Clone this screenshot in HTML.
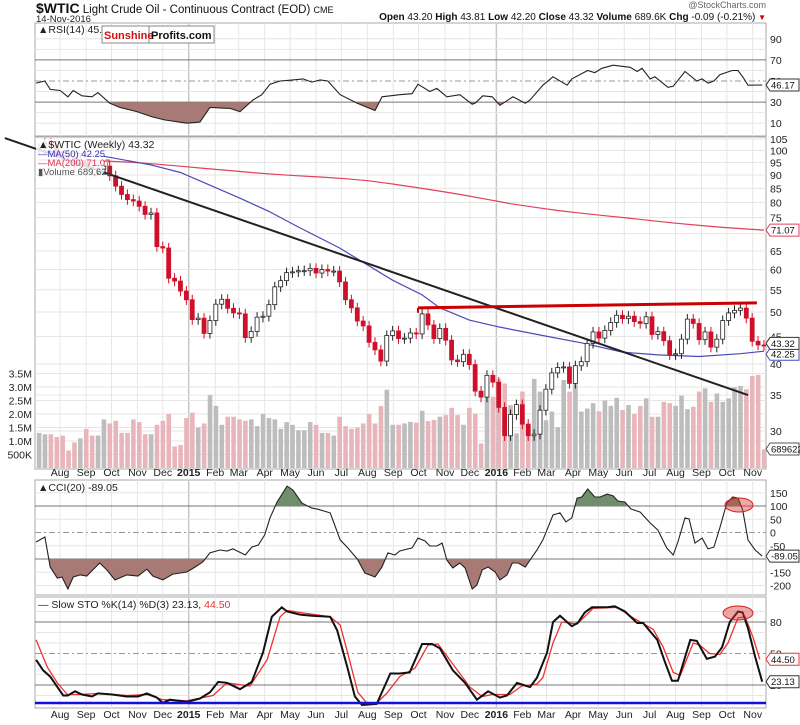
<!DOCTYPE html>
<html><head><meta charset="utf-8"><style>
html,body{margin:0;padding:0;background:#fff;}
svg{display:block;font-family:"Liberation Sans",sans-serif;}
</style></head><body>
<svg id="c" width="800" height="725" viewBox="0 0 800 725" xmlns="http://www.w3.org/2000/svg"></svg>
<script>
// ---------- DATA ----------
const monthWeeks=[3.57,8.0,12.3,16.7,21.0,25.4,29.9,33.9,38.3,42.6,47.0,51.3,55.7,60.1,64.4,68.9,73.1,77.6,82.0,86.1,90.6,94.9,99.3,103.6,108.0,112.4,116.7,121.1];
const monthLabels=["Aug","Sep","Oct","Nov","Dec","2015","Feb","Mar","Apr","May","Jun","Jul","Aug","Sep","Oct","Nov","Dec","2016","Feb","Mar","Apr","May","Jun","Jul","Aug","Sep","Oct","Nov"];
const closes=[100.8,103.1,102.1,97.9,97.7,97.4,93.7,95.9,93.3,92.3,92.4,93.5,89.7,85.8,82.8,81.0,80.5,78.7,76.0,76.5,66.2,65.8,57.8,57.1,54.7,52.7,
48.4,48.7,45.6,48.2,51.7,52.8,50.8,49.8,49.6,44.8,46.0,48.9,49.1,51.6,55.7,57.2,59.2,59.4,59.7,59.7,60.3,59.1,60.0,59.6,59.6,56.9,52.7,50.9,48.1,47.1,43.9,42.5,40.5,45.2,46.1,44.6,44.7,45.7,45.5,49.6,47.3,44.6,46.6,44.3,40.7,40.4,41.7,39.9,35.6,34.7,38.1,37.0,
33.2,29.4,32.2,33.6,30.9,29.4,29.6,32.8,35.9,38.5,39.4,39.5,36.8,39.7,40.4,43.7,45.9,44.7,46.2,47.8,49.3,48.6,49.1,47.98,47.6,48.99,45.4,45.95,44.2,41.6,41.8,44.5,48.5,47.6,44.4,45.9,43.0,44.5,48.2,49.8,50.35,50.85,48.7,44.1,43.4,43.32];
const volumesM=[1.3,1.25,1.25,1.15,1.2,0.65,0.95,1.1,1.45,1.2,1.2,1.8,1.65,1.75,1.3,1.3,1.8,1.7,1.25,1.25,1.6,1.75,2.0,0.8,0.85,1.85,2.05,1.5,1.65,2.7,2.3,1.6,1.9,1.9,1.8,1.75,1.8,1.55,2.0,1.85,1.8,1.45,1.7,1.6,1.4,1.4,1.7,1.6,1.3,1.3,1.2,1.9,1.55,1.45,1.5,1.65,2.0,1.65,2.3,2.9,1.6,1.6,
1.65,1.71,1.68,2.12,1.74,1.78,1.9,1.96,2.23,1.96,1.6,2.23,2.02,0.91,2.62,2.64,3.29,3.13,2.33,1.28,2.83,1.6,3.3,2.83,1.77,2.09,1.51,3.26,2.83,3.1,2.09,2.2,2.4,2.1,2.5,2.3,2.6,2.15,2.33,2.0,2.3,2.58,1.9,1.9,2.45,2.4,2.3,2.68,2.18,2.27,2.83,2.95,2.45,2.76,2.45,2.58,2.99,3.04,2.92,3.41,3.45,0.69];
const ma50Weeks=[0,10,19,24,34,39,44,51,60,65,68,73,78,85,92,99,105,112,119,123];
const ma50Vals=[100,98,94,91,81.6,77,72,65.8,57.3,53.8,50.9,48.3,46.9,45.3,43.8,42.1,41.6,41.3,41.8,42.25];
const ma200Weeks=[0,4,8,12,16,20,24,28,32,36,40,44,48,52,56,60,64,68,72,76,80,84,88,92,96,100,104,108,112,116,120,123];
const ma200Vals=[96,96,95.8,95.5,95,94.3,93.5,92.6,91.8,91,90.3,89.7,89.2,88.6,87.8,86.6,85.3,84,82.6,81.1,79.6,78.4,77.3,76.4,75.6,74.8,74,73.2,72.5,71.9,71.4,71.07];
const trendWeeks=[-5.8,120.3];const trendPrices=[105.5,35];
const resistWeeks=[64.3,121.8];const resistPrices=[50.9,52];
const rsiWeeks=[-0.5,1.0,1.9,3.6,4.9,5.8,7.3,9.0,10.0,12.0,13.7,16.6,19.2,21.4,25.1,27.3,29.0,32.4,34.1,36.3,37.8,39.2,40.9,43.1,44.8,46.3,47.7,49.0,51.1,54.0,57.0,58.2,61.2,63.3,64.3,66.3,67.5,69.2,71.4,73.5,74.0,75.3,76.9,78.2,80.4,82.5,83.3,85.5,87.2,89.6,90.4,93.1,94.3,95.5,97.4,100.3,101.5,102.3,103.7,104.5,106.7,107.6,109.6,111.6,112.5,113.5,114.5,115.5,117.6,118.6,119.4,120.3,122.7];
const rsiVals=[48,50,42,41,35,41,36,35,39,29,25,21,16,13,10,11,25,24,21,32,37,47,50,51,52,49,51,50,37,29,22,35,37,38,47,40,43,35,37,28,29,36,35,27,35,29,32,46,54,46,52,60,58,62,65,63,59,62,52,54,44,45,59,50,52,48,50,56,60,60,54,46,46.17];
const cciWeeks=[-0.5,1.0,1.9,3.1,3.9,4.9,5.8,7.0,8.1,10.3,11.5,12.9,14.9,16.8,18.3,19.3,21.0,22.7,25.1,26.5,27.8,29.0,30.7,31.9,32.9,35.0,36.1,37.2,38.3,39.2,40.4,42.1,43.1,44.6,46.3,47.3,49.4,51.1,52.4,54.0,55.3,57.0,58.2,59.2,60.4,61.2,63.3,64.3,65.5,66.3,67.5,68.4,69.2,70.2,71.4,72.3,73.5,74.3,75.2,76.2,77.4,78.2,79.4,80.3,81.3,82.5,83.3,84.5,85.5,86.4,87.2,88.4,89.4,90.4,91.3,92.1,93.1,94.3,95.2,96.4,97.4,98.2,99.4,100.4,102.0,103.7,105.0,106.5,107.6,108.4,109.6,110.3,111.3,112.5,113.5,114.5,115.5,116.7,117.7,118.6,119.4,120.3,121.5,122.7];
const cciVals=[-36,-17,-130,-172,-168,-213,-168,-160,-164,-115,-141,-179,-160,-164,-138,-164,-179,-157,-149,-130,-111,-77,-66,-70,-62,-85,-55,-47,-9,55,115,175,160,111,92,88,74,-28,-58,-100,-153,-168,-130,-77,-85,-70,-58,-21,-32,-51,-51,-40,-104,-134,-115,-134,-213,-198,-141,-130,-149,-179,-160,-115,-115,-130,-104,-66,-28,21,66,74,40,55,130,134,164,134,134,145,138,119,115,89,77,36,9,-58,-85,-36,55,51,-40,-21,-62,-55,17,111,134,130,85,-28,-66,-89.05];
const kWeeks=[-0.5,0.7,1.9,4.1,4.9,6.1,7.3,9.0,10.0,12.4,14.9,16.8,18.3,20.0,21.0,22.2,25.1,27.3,29.0,30.4,31.9,34.1,36.1,38.0,39.5,41.2,42.1,44.3,46.3,49.4,50.6,52.3,53.6,54.8,57.3,59.6,61.2,62.9,65.0,66.7,68.0,70.2,72.3,74.3,76.2,78.2,79.4,81.1,83.3,84.5,86.2,87.2,88.4,90.4,91.4,92.6,93.8,96.4,97.7,99.4,101.5,102.5,104.9,106.2,107.4,108.4,110.5,111.6,113.3,114.7,115.9,117.2,118.6,119.4,120.3,121.5,122.7];
const kVals=[44,34,28,10,10,14,11,9,12,11,9,9,12,8,3,6,4,7,13,23,22,16,23,51,85,94,90,87,86,85,72,37,9,1,2,31,31,32,59,59,55,34,22,6,14,8,10,22,18,27,51,80,86,76,79,89,94,94,95,90,79,79,63,42,24,24,63,62,45,47,56,80,90,89,74,47,23.13];
const dWeeks=[-0.5,1.4,3.1,4.8,7.0,10.3,14.9,18.3,21.0,25.1,29.5,31.9,35.8,38.7,40.9,42.1,44.3,49.4,51.1,52.4,54.1,55.6,57.3,59.0,61.2,63.8,66.0,67.7,70.6,73.1,75.2,76.9,79.9,81.9,84.5,85.5,87.2,88.7,91.3,94.0,98.1,100.8,104.2,105.9,107.6,108.8,111.0,112.1,113.8,115.5,116.9,118.6,119.8,121.1,122.3];
const dVals=[63,37,22,11,11,12,10,11,6,5,10,22,19,44,85,91,89,85,77,50,13,3,3,12,28,36,58,59,37,18,9,11,11,19,21,27,60,80,78,93,94,84,73,56,32,29,60,58,50,49,60,84,85,66,44.5];
const rsiTicks=[90,70,50,30,10];
const priceTicks=[105,100,95,90,85,80,75,70,65,60,55,50,45,40,35,30];
const volTicks=[3.5,3.0,2.5,2.0,1.5,1.0,0.5];
const volTickLabels=["3.5M","3.0M","2.5M","2.0M","1.5M","1.0M","500K"];
const cciTicks=[150,100,50,0,-50,-100,-150,-200];
const stoTicks=[80,50,20];

// ---------- SCALES ----------
const L=35,R=766;
const xW=w=>39+w*5.894;
const rsiY=v=>81-(v-50)*1.055;
const pY=p=>312-233*Math.log(p/50);
const volY=v=>468-27*v;
const cciY=v=>532.5-0.265*v;
const stoY=v=>706-1.05*v;

const svg=document.getElementById('c');
const NS='http://www.w3.org/2000/svg';
function mk(tag,at,parent){const e=document.createElementNS(NS,tag);for(const k in at)e.setAttribute(k,at[k]);(parent||svg).appendChild(e);return e;}
function txt(x,y,s,at,parent){const e=mk('text',Object.assign({x:x,y:y},at||{}),parent);e.textContent=s;return e;}

const defs=mk('defs',{});
function clip(id,x,y,w,h){const c=mk('clipPath',{id:id},defs);mk('rect',{x:x,y:y,width:w,height:h},c);}
clip('cpRsi',L,23,R-L,113);clip('cpMain',L,137,R-L,332);clip('cpCci',L,480,R-L,115);clip('cpSto',L,597,R-L,111);
clip('rsiLow',L,rsiY(30),R-L,60);clip('cciHi',L,470,R-L,cciY(100)-470);clip('cciLo',L,cciY(-100),R-L,60);

// ---------- PANELS ----------
const panels=[[23,136,'rsi-panel'],[137,469,'price-panel'],[480,595,'cci-panel'],[597,708,'sto-panel']];
panels.forEach(p=>{
  const r=mk('rect',{x:L,y:p[0],width:R-L,height:p[1]-p[0],fill:'#fff',stroke:'#aaa','stroke-width':1});
  
  monthWeeks.forEach((w,i)=>{const yr=monthLabels[i].length===4;
    mk('line',{x1:xW(w),x2:xW(w),y1:p[0],y2:p[1],stroke:yr?'#c8c8c8':'#e6e6e6','stroke-width':yr?1.5:1});});
});
function hgrid(y,kind){
  const a={x1:L,x2:R,y1:y,y2:y};
  if(kind==='dark'){a.stroke='#777';a['stroke-width']=1;}
  else if(kind==='dash'){a.stroke='#999';a['stroke-dasharray']='6,3,2,3';}
  else {a.stroke='#e6e6e6';}
  mk('line',a);
}
for(let v=10;v<=90;v+=10){hgrid(rsiY(v),v===70||v===30?'dark':v===50?'dash':'light');}
priceTicks.forEach(p=>hgrid(pY(p),'light'));
volTicks.forEach(v=>hgrid(volY(v),'light'));
for(let v=-200;v<=150;v+=50){hgrid(cciY(v),v===100||v===-100?'dark':v===0?'dash':'light');}
for(let v=10;v<=90;v+=10){hgrid(stoY(v),v===80||v===20?'dark':v===50?'dash':'light');}

// ---------- AXIS LABELS ----------
const lab={'font-size':10.5,fill:'#222'};
rsiTicks.forEach(v=>{const t=txt(770,rsiY(v)+4,String(v),lab);});
priceTicks.forEach(p=>{if(p===70)return;const t=txt(770,pY(p)+4,String(p),lab);});
volTicks.forEach((v,i)=>{const t=txt(32,volY(v)+4,volTickLabels[i],Object.assign({'text-anchor':'end'},lab));});
cciTicks.forEach(v=>{if(v===-100)return;const t=txt(770,cciY(v)+4,String(v),lab);});
stoTicks.forEach(v=>{const t=txt(770,stoY(v)+4,String(v),lab);});
[476,718].forEach(y=>{monthWeeks.forEach((w,i)=>{const yr=monthLabels[i].length===4;
  const t=txt(xW(w),y,monthLabels[i],{'font-size':10.5,'text-anchor':'middle',fill:'#222','font-weight':yr?'bold':'normal'});
  });});

// ---------- RSI ----------
function pts(ws,vs,fx,fy){return ws.map((w,i)=>fx(w).toFixed(1)+','+fy(vs[i]).toFixed(1)).join(' ');}
const gR=mk('g',{'clip-path':'url(#cpRsi)'});
const rf=mk('polygon',{points:xW(rsiWeeks[0])+','+rsiY(30)+' '+pts(rsiWeeks,rsiVals,xW,rsiY)+' '+xW(rsiWeeks[rsiWeeks.length-1])+','+rsiY(30),fill:'#a87a76','clip-path':'url(#rsiLow)'},gR);

const rl=mk('polyline',{points:pts(rsiWeeks,rsiVals,xW,rsiY),fill:'none',stroke:'#222','stroke-width':1.1},gR);


// ---------- MAIN ----------
const gM=mk('g',{'clip-path':'url(#cpMain)'});
closes.forEach((c,i)=>{
  const o=i>0?closes[i-1]:c;const down=c<o;
  const b=mk('rect',{x:xW(i)-2.2,y:volY(volumesM[i]),width:4.6,height:468-volY(volumesM[i]),fill:down?'#e8b6ba':'#bdbdbd'},gM);
  
});
mk('polyline',{points:pts(ma200Weeks,ma200Vals,xW,pY),fill:'none',stroke:'#e0405a','stroke-width':1.2},gM);
mk('polyline',{points:pts(ma50Weeks,ma50Vals,xW,pY),fill:'none',stroke:'#4a4ab8','stroke-width':1.2},gM);
closes.forEach((c,i)=>{
  const o=i>0?closes[i-1]:c;const down=c<o;const x=xW(i);
  const hi=Math.max(o,c)*1.022,lo=Math.min(o,c)*0.978;
  const g=mk('g',{},gM);
  
  mk('line',{x1:x,x2:x,y1:pY(hi),y2:pY(lo),stroke:down?'#d0102a':'#222','stroke-width':1},g);
  const yt=pY(Math.max(o,c)),yb=pY(Math.min(o,c));
  mk('rect',{x:x-2,y:yt,width:4,height:Math.max(1,yb-yt),fill:down?'#d0102a':'#fff',stroke:down?'#d0102a':'#222','stroke-width':0.8},g);
});
const tl=mk('line',{x1:xW(trendWeeks[0]),y1:pY(trendPrices[0]),x2:xW(trendWeeks[1]),y2:pY(trendPrices[1]),stroke:'#222','stroke-width':2});

const rs=mk('line',{x1:xW(resistWeeks[0]),y1:pY(resistPrices[0]),x2:xW(resistWeeks[1]),y2:pY(resistPrices[1]),stroke:'#cc0000','stroke-width':3});

mk('line',{x1:xW(resistWeeks[0]),y1:pY(resistPrices[0]),x2:xW(resistWeeks[0]),y2:pY(resistPrices[0])+5,stroke:'#cc0000','stroke-width':2});

// ---------- CCI ----------
const gC=mk('g',{'clip-path':'url(#cpCci)'});
const cp=pts(cciWeeks,cciVals,xW,cciY),cx0=xW(cciWeeks[0]),cx1=xW(cciWeeks[cciWeeks.length-1]);
mk('polygon',{points:cx0+','+cciY(100)+' '+cp+' '+cx1+','+cciY(100),fill:'#6f8f6a','clip-path':'url(#cciHi)'},gC);
mk('polygon',{points:cx0+','+cciY(-100)+' '+cp+' '+cx1+','+cciY(-100),fill:'#a87a76','clip-path':'url(#cciLo)'},gC);
mk('polyline',{points:cp,fill:'none',stroke:'#222','stroke-width':1.1},gC);

// ---------- STO ----------
const gS=mk('g',{'clip-path':'url(#cpSto)'});
mk('polyline',{points:pts(dWeeks,dVals,xW,stoY),fill:'none',stroke:'#f03030','stroke-width':1.3},gS);
mk('polyline',{points:pts(kWeeks,kVals,xW,stoY),fill:'none',stroke:'#111','stroke-width':2},gS);
mk('line',{x1:L,x2:R,y1:703,y2:703,stroke:'#1010e0','stroke-width':2.5});

mk('ellipse',{cx:739,cy:505,rx:14,ry:7,fill:'rgba(220,60,60,0.45)',stroke:'#d02020','stroke-width':1});
mk('ellipse',{cx:738,cy:613,rx:15,ry:7,fill:'rgba(220,60,60,0.45)',stroke:'#d02020','stroke-width':1});

function tag(y,s,color,name){
  const g=mk('g',{});
  mk('path',{d:`M766,${y} l4,-6 h29 v12 h-29 z`,fill:'#fff',stroke:color,'stroke-width':1},g);
  txt(771,y+3.5,s,{'font-size':9.5,fill:'#111'},g);
}
tag(rsiY(46.17),'46.17','#333','rsi-value-tag');
tag(pY(71.07),'71.07','#e0405a','ma200-value-tag');
tag(pY(42.25)+3,'42.25','#4a4ab8','ma50-value-tag');
tag(pY(43.32)-2,'43.32','#333','price-value-tag');
tag(449,'689622','#555','volume-value-tag');
tag(cciY(-89.05),'-89.05','#333','cci-value-tag');
tag(stoY(44.5),'44.50','#f03030','sto-d-value-tag');
tag(stoY(23.13),'23.13','#333','sto-k-value-tag');

// ---------- HEADER / LEGENDS ----------
const h=txt(36,13,'',{'font-size':11.5,fill:'#111'});
h.innerHTML='<tspan font-weight="bold" font-size="14">$WTIC</tspan> Light Crude Oil - Continuous Contract (EOD) <tspan font-size="9">CME</tspan>';
const d=txt(36,22,'14-Nov-2016',{'font-size':9.5,fill:'#222'});
const sc=txt(766,8,'@StockCharts.com',{'font-size':9,fill:'#666','text-anchor':'end'});
const q=txt(766,20,'',{'font-size':10,fill:'#111','text-anchor':'end'});
q.innerHTML='<tspan font-weight="bold">Open</tspan> 43.20 <tspan font-weight="bold">High</tspan> 43.81 <tspan font-weight="bold">Low</tspan> 42.20 <tspan font-weight="bold">Close</tspan> 43.32 <tspan font-weight="bold">Volume</tspan> 689.6K <tspan font-weight="bold">Chg</tspan> -0.09 (-0.21%) <tspan fill="#c00" font-size="8">▼</tspan>';
txt(38,33,'▲RSI(14) 45.17',{'font-size':10.5,fill:'#222'});
const sp=mk('g',{});
mk('rect',{x:102,y:26,width:112,height:17,fill:'#fff',stroke:'#888','stroke-width':1},sp);
mk('line',{x1:149,x2:149,y1:26,y2:43,stroke:'#888'},sp);
txt(104,39,'Sunshine',{'font-size':11,'font-weight':'bold',fill:'#d01010'},sp);
txt(151,39,'Profits.com',{'font-size':11,'font-weight':'bold',fill:'#111'},sp);
const lg=mk('g',{});
mk('rect',{x:36,y:139,width:68,height:34,fill:'#fff','fill-opacity':0.85},lg);
txt(38,148,'▲$WTIC (Weekly) 43.32',{'font-size':10.5,fill:'#222'},lg);
txt(38,157,'—MA(50) 42.25',{'font-size':9.5,fill:'#3030b0'},lg);
txt(38,166,'—MA(200) 71.07',{'font-size':9.5,fill:'#e0304a'},lg);
txt(38,175,'▮Volume 689,622',{'font-size':9.5,fill:'#555'},lg);
txt(38,491,'▲CCI(20) -89.05',{'font-size':10.5,fill:'#222'});
const sl=txt(38,608,'',{'font-size':10.5,fill:'#222'});
sl.innerHTML='— Slow STO %K(14) %D(3) 23.13, <tspan fill="#f03030">44.50</tspan>';
</script>
</body></html>
